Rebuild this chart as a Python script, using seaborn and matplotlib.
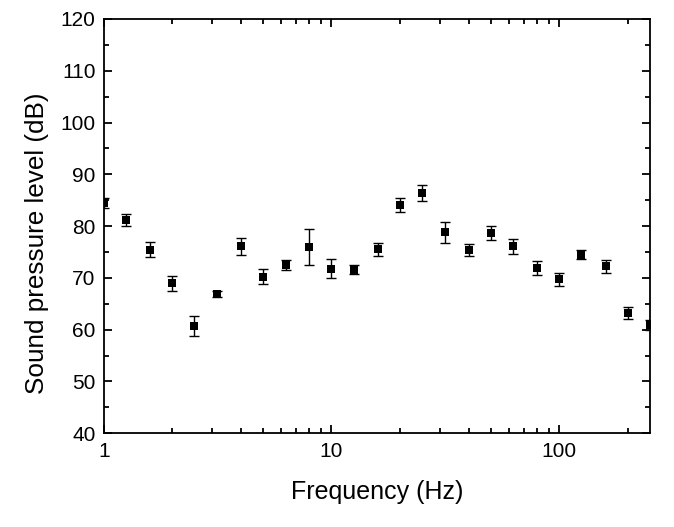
import matplotlib
matplotlib.use("Agg")
import matplotlib.pyplot as plt
import matplotlib.ticker as mticker
import seaborn as sns
import pandas as pd

freq = [1, 1.25, 1.6, 2, 2.5, 3.15, 4, 5, 6.3, 8, 10, 12.5, 16, 20, 25,
        31.5, 40, 50, 63, 80, 100, 125, 160, 200, 250]
spl = [84.4, 81.2, 75.4, 69.0, 60.7, 66.9, 76.1, 70.2, 72.5, 76.0, 71.8, 71.6,
       75.5, 84.1, 86.4, 78.8, 75.4, 78.7, 76.1, 71.9, 69.7, 74.5, 72.2, 63.2, 60.9]
err = [1.0, 1.1, 1.45, 1.45, 2.0, 0.5, 1.6, 1.45, 1.0, 3.5, 1.9, 0.9,
       1.3, 1.3, 1.6, 2.05, 1.2, 1.4, 1.4, 1.3, 1.2, 0.9, 1.3, 1.2, 1.0]

df = pd.DataFrame({"freq": freq, "spl": spl, "err": err})

sns.set_style("ticks")
plt.rcParams["font.family"] = ["Liberation Sans", "DejaVu Sans"]
plt.rcParams["text.color"] = "black"
plt.rcParams["axes.labelcolor"] = "black"
plt.rcParams["xtick.color"] = "black"
plt.rcParams["ytick.color"] = "black"

fig = plt.figure(figsize=(6.74, 5.27), dpi=100)
ax = fig.add_axes([0.154, 0.178, 0.81, 0.786])

ax.errorbar(df["freq"], df["spl"], yerr=df["err"], fmt="none", ecolor="black",
            elinewidth=1.0, capsize=3.5, capthick=1.0, zorder=2)
sns.scatterplot(data=df, x="freq", y="spl", marker="s", color="black", s=40,
                edgecolor="black", linewidth=0, ax=ax, zorder=3)

ax.set_xscale("log")
ax.set_xlim(1, 250)
ax.set_ylim(40, 120)
ax.xaxis.set_major_locator(mticker.LogLocator(base=10))
ax.xaxis.set_major_formatter(mticker.FuncFormatter(lambda v, p: f"{v:g}"))
ax.xaxis.set_minor_locator(mticker.LogLocator(base=10, subs=range(2, 10)))
ax.xaxis.set_minor_formatter(mticker.NullFormatter())
ax.yaxis.set_major_locator(mticker.MultipleLocator(10))
ax.yaxis.set_minor_locator(mticker.MultipleLocator(5))

for s in ax.spines.values():
    s.set_visible(True)
    s.set_linewidth(1.3)
    s.set_color("black")
ax.tick_params(which="both", direction="in", top=True, right=True, width=1.3)
ax.tick_params(which="major", length=6, labelsize=15, pad=6)
ax.tick_params(which="minor", length=3.5)

ax.set_xlabel("Frequency (Hz)", fontsize=18, labelpad=14)
ax.set_ylabel("Sound pressure level (dB)", fontsize=18.8)
# label sits a bit below the axes centre in the original
ax.yaxis.set_label_coords(-0.101, 0.458)

fig.savefig("out.png", dpi=100)
